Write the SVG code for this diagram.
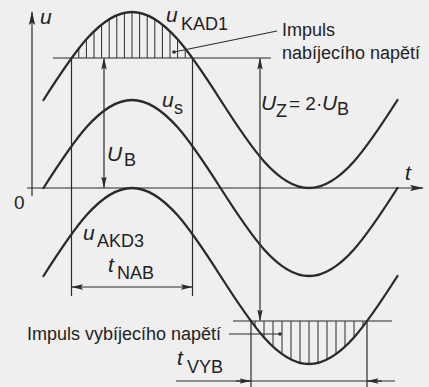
<svg xmlns="http://www.w3.org/2000/svg" width="429" height="387" viewBox="0 0 429 387">
<defs>
<marker id="ah" markerUnits="userSpaceOnUse" markerWidth="12" markerHeight="6" refX="11" refY="3" orient="auto-start-reverse" viewBox="0 0 12 6">
<path d="M0,0.3 L12,3 L0,5.7 L2,3 z" fill="#2b2b2b"/>
</marker>
<marker id="ax" markerUnits="userSpaceOnUse" markerWidth="14" markerHeight="7" refX="13" refY="3.5" orient="auto" viewBox="0 0 14 7">
<path d="M0,0.4 L14,3.5 L0,6.6 L2.5,3.5 z" fill="#2b2b2b"/>
</marker>
</defs>
<style>
.bg{fill:#efefef}
.ln{stroke:#2b2b2b;stroke-width:1.2;fill:none}
.cv{stroke:#2b2b2b;stroke-width:2.3;fill:none;stroke-linecap:round}
.ht{stroke:#2b2b2b;stroke-width:1;fill:none}
text{font-family:"Liberation Sans",Arial,sans-serif;fill:#222}
.it{font-style:italic;font-size:21px}
.sb{font-size:18px}
.lb{font-size:18px}
</style>
<rect class="bg" x="0" y="0" width="429" height="387"/>

<g id="axes">
<line class="ln" x1="32" y1="196" x2="32" y2="12" marker-end="url(#ax)"/>
<line class="ln" x1="27" y1="188" x2="423" y2="188" marker-end="url(#ax)"/>
</g>

<g id="hatch-top">
<path class="ht" d="M78.8,58V48.4M86.4,58V39.3M94,58V31.3M101.6,58V24.5M109.2,58V19.1M116.8,58V15.2M124.4,58V12.8M132,58V12M139.6,58V12.8M147.2,58V15.2M154.8,58V19.1M162.4,58V24.5M170,58V31.3M177.6,58V39.3M185.2,58V48.4"/>
</g>
<g id="hatch-bottom">
<path class="ht" d="M255,321V326.6M264,321V337.4M273,321V346.6M282,321V354.1M291,321V359.6M300,321V362.9M309,321V364M318,321V362.9M327,321V359.6M336,321V354.1M345,321V346.6M354,321V337.4M363,321V326.6"/>
</g>

<g id="curves">
<path id="u-KAD1" class="cv" d="M43.5,100 C72.36,54.92 100.12,12 132,12 C163.88,12 191.64,54.92 220.5,100 C249.36,145.08 277.12,188 309,188 C340.88,188 368.64,145.08 397.5,100"/>
<path id="u-s" class="cv" d="M43.5,188 C72.36,142.92 100.12,100 132,100 C163.88,100 191.64,142.92 220.5,188 C249.36,233.08 277.12,276 309,276 C340.88,276 368.64,233.08 397.5,188"/>
<path id="u-AKD3" class="cv" d="M43.5,276 C72.36,230.92 100.12,188 132,188 C163.88,188 191.64,230.92 220.5,276 C249.36,321.08 277.12,364 309,364 C340.88,364 368.64,321.08 397.5,276"/>
</g>

<g id="connectors">
<line class="ln" x1="53" y1="58" x2="271" y2="58"/>
<line class="ln" x1="233" y1="321" x2="392" y2="321"/>
<line class="ln" x1="71.5" y1="58" x2="71.5" y2="296"/>
<line class="ln" x1="192.5" y1="58" x2="192.5" y2="296"/>
<line class="ln" x1="251" y1="321" x2="251" y2="387"/>
<line class="ln" x1="367" y1="321" x2="367" y2="387"/>
<line class="ln" x1="104" y1="58.5" x2="104" y2="187.5" marker-start="url(#ah)" marker-end="url(#ah)"/>
<line class="ln" x1="260" y1="58.5" x2="260" y2="320.5" marker-start="url(#ah)" marker-end="url(#ah)"/>
<line class="ln" x1="72" y1="287" x2="192" y2="287" marker-start="url(#ah)" marker-end="url(#ah)"/>
<line class="ln" x1="176" y1="381" x2="395" y2="381"/>
<line class="ln" x1="236" y1="381" x2="250.5" y2="381" marker-end="url(#ah)"/>
<line class="ln" x1="382" y1="381" x2="367.5" y2="381" marker-end="url(#ah)"/>
<line class="ln" x1="277" y1="31" x2="174" y2="52"/>
<circle cx="174" cy="52" r="1.8" fill="#2b2b2b"/>
<line class="ln" x1="229" y1="334" x2="280" y2="334"/>
<circle cx="280" cy="334" r="1.8" fill="#2b2b2b"/>
</g>

<g id="labels">
<text class="it" x="40" y="24">u</text>
<text class="it" x="166" y="22">u</text><text class="sb" x="181" y="30">KAD1</text>
<text class="lb" x="282" y="36">Impuls</text>
<text class="lb" x="282" y="59">nabíjecího napětí</text>
<text class="it" x="162" y="107">u</text><text class="sb" x="174" y="114">s</text>
<text class="it" x="107" y="161">U</text><text class="sb" x="124" y="166">B</text>
<text class="it" x="261" y="110">U</text><text class="sb" x="276" y="117">Z</text>
<text x="289" y="110" style="font-size:19px">= 2·</text>
<text class="it" x="322" y="110">U</text><text class="sb" x="337" y="115">B</text>
<text class="it" x="405" y="180">t</text>
<text x="14" y="209" style="font-size:19px">0</text>
<text class="it" x="83" y="240">u</text><text class="sb" x="97" y="247">AKD3</text>
<text class="it" x="108" y="272">t</text><text class="sb" x="117" y="279">NAB</text>
<text class="lb" x="27" y="340">Impuls vybíjecího napětí</text>
<text class="it" x="177" y="365">t</text><text class="sb" x="187" y="373">VYB</text>
</g>
</svg>
